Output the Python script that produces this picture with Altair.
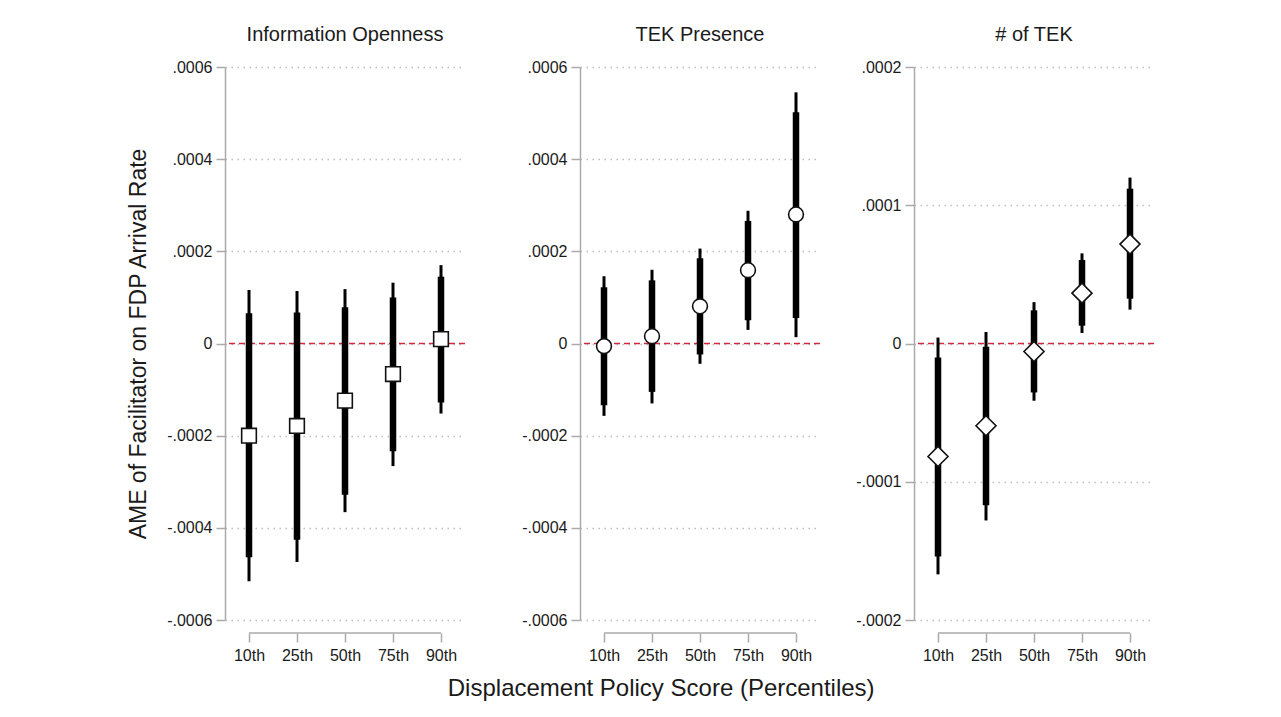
import altair as alt
import pandas as pd

cats = ["10th", "25th", "50th", "75th", "90th"]

# Information Openness
info_est = [-0.000200, -0.000179, -0.000124, -0.0000663, 0.0000095]
info_lo95 = [-0.000516, -0.000474, -0.000366, -0.000266, -0.000152]
info_hi95 = [0.000116, 0.000114, 0.000118, 0.000132, 0.000170]
info_lo90 = [-0.000464, -0.000426, -0.000328, -0.000234, -0.000128]
info_hi90 = [0.0000659, 0.0000672, 0.0000789, 0.0000997, 0.000145]

# TEK Presence
tek_est = [-0.0000058, 0.0000158, 0.0000808, 0.000159, 0.000280]
tek_lo95 = [-0.000157, -0.000130, -0.0000441, 0.0000295, 0.0000137]
tek_hi95 = [0.000146, 0.000160, 0.000206, 0.000288, 0.000545]
tek_lo90 = [-0.000134, -0.000105, -0.0000238, 0.0000505, 0.0000555]
tek_hi90 = [0.000122, 0.000137, 0.000185, 0.000266, 0.000502]

# # of TEK
ntek_est = [-0.0000817, -0.0000595, -0.0000058, 0.0000364, 0.0000719]
ntek_lo95 = [-0.000167, -0.000128, -0.0000414, 0.0000076, 0.0000245]
ntek_hi95 = [0.0000043, 0.0000083, 0.0000299, 0.0000652, 0.000120]
ntek_lo90 = [-0.000154, -0.000117, -0.0000354, 0.0000129, 0.0000324]
ntek_hi90 = [-0.0000101, -0.0000024, 0.000024, 0.0000604, 0.000112]

ticks_wide = [-0.0006, -0.0004, -0.0002, 0, 0.0002, 0.0004, 0.0006]
ticks_narrow = [-0.0002, -0.0001, 0, 0.0001, 0.0002]

FONT = "Liberation Sans"
W, H = 240, 553
XOFF = 13

label_expr = ("datum.value == 0 ? '0' : (datum.value < 0 ? '-' : '') + "
              "replace(format(abs(datum.value), '.4f'), '0.', '.')")


def panel(title, est, lo95, hi95, lo90, hi90, shape, size, ticks, ytitle):
    df = pd.DataFrame({"cat": cats, "est": est, "lo95": lo95, "hi95": hi95,
                       "lo90": lo90, "hi90": hi90})
    dom = [min(ticks), max(ticks)]
    xscale = alt.Scale(type="point", domain=cats, padding=0.5)
    xaxis = alt.Axis(title=None, domain=False, tickSize=9, tickColor="#aaaaaa",
                     tickWidth=1.5, offset=XOFF, labelFontSize=16, labelAngle=0,
                     labelPadding=5, labelColor="#1a1a1a", labelFont=FONT, grid=False)
    yscale = alt.Scale(domain=dom, nice=False, zero=False)
    yaxis = alt.Axis(values=ticks, labelExpr=label_expr, grid=True,
                     gridDash=[1.5, 4.5], gridColor="#bdbdbd", gridWidth=1.5,
                     domainColor="#aaaaaa", domainWidth=1.5,
                     tickColor="#aaaaaa", tickWidth=1.5, tickSize=9,
                     labelFontSize=16, labelPadding=4, labelColor="#1a1a1a",
                     labelFont=FONT,
                     title=ytitle if ytitle else None,
                     titleFontSize=23, titleFont=FONT, titleFontWeight="normal",
                     titleColor="#1a1a1a", titlePadding=16)
    x = alt.X("cat:N", scale=xscale, axis=xaxis)
    base = alt.Chart(df)
    zero = alt.Chart(pd.DataFrame({"z": [0]})).mark_rule(
        color="#d02a40", strokeDash=[6, 4], strokeWidth=1.5
    ).encode(y=alt.Y("z:Q", scale=yscale, axis=yaxis))
    thin = base.mark_rule(strokeWidth=3, color="black").encode(
        x=x, y=alt.Y("lo95:Q", scale=yscale), y2="hi95:Q")
    thick = base.mark_rule(strokeWidth=6.5, color="black").encode(
        x=x, y=alt.Y("lo90:Q", scale=yscale), y2="hi90:Q")
    pts = base.mark_point(shape=shape, size=size, filled=True, fill="white",
                          stroke="#111111", strokeWidth=1.6, opacity=1).encode(
        x=x, y=alt.Y("est:Q", scale=yscale))
    xl = alt.Chart(pd.DataFrame({"a": [cats[0]], "b": [cats[-1]]})).mark_rule(
        color="#aaaaaa", strokeWidth=1.5
    ).encode(x=alt.X("a:N", scale=xscale, axis=xaxis), x2="b:N",
             y=alt.value(H + XOFF))
    return alt.layer(zero, thin, thick, pts, xl).properties(
        width=W, height=H,
        title=alt.TitleParams(title, fontSize=20, font=FONT, fontWeight="normal",
                              color="#1a1a1a", offset=14, anchor="middle"))


p1 = panel("Information Openness", info_est, info_lo95, info_hi95, info_lo90,
           info_hi90, "square", 215, ticks_wide,
           "AME of Facilitator on FDP Arrival Rate")
p2 = panel("TEK Presence", tek_est, tek_lo95, tek_hi95, tek_lo90, tek_hi90,
           "circle", 220, ticks_wide, None)
p3 = panel("# of TEK", ntek_est, ntek_lo95, ntek_hi95, ntek_lo90, ntek_hi90,
           "diamond", 400, ticks_narrow, None)

inner = alt.hconcat(p1, p2, spacing=55)
chart = alt.hconcat(inner, p3, spacing=34).properties(
    title=alt.TitleParams("Displacement Policy Score (Percentiles)", orient="bottom",
                          anchor="middle", fontSize=24, font=FONT,
                          fontWeight="normal", color="#1a1a1a", offset=14, dx=20),
    padding={"left": 119, "top": 17, "right": 5, "bottom": 5},
).configure(background="white").configure_view(stroke=None)

chart.save("out.html", embed_options={"renderer": "svg", "actions": False})
